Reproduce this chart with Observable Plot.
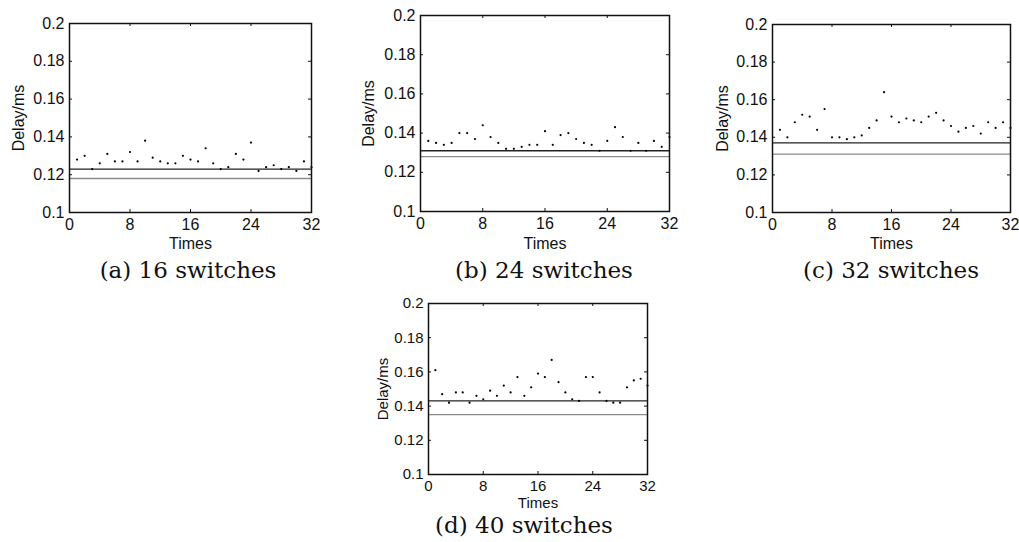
<!DOCTYPE html>
<html>
<head>
<meta charset="utf-8">
<script src="https://cdn.jsdelivr.net/npm/d3@7"></script>
<script src="https://cdn.jsdelivr.net/npm/@observablehq/plot@0.6"></script>
<style>
  html, body { margin: 0; padding: 0; background: #fff; }
  #root { position: relative; width: 1019px; height: 542px; overflow: hidden; background: #fff; }
  .panel { position: absolute; }
  .cap { position: absolute; font-family: "DejaVu Serif", serif; font-size: 23px; color: #111; white-space: nowrap; transform: translateX(-50%); line-height: 1; }
</style>
</head>
<body>
<div id="root"></div>
<script>
// ---- data ----
const times = d3.range(1, 33);
const delay16 = [0.128,0.130,0.123,0.126,0.131,0.127,0.127,0.132,0.127,0.138,0.129,0.127,0.126,0.126,0.130,0.128,
                 0.127,0.134,0.126,0.123,0.124,0.131,0.128,0.137,0.122,0.124,0.125,0.123,0.124,0.122,0.127,0.124];
const delay24 = [0.136,0.135,0.134,0.135,0.140,0.140,0.137,0.144,0.138,0.135,0.132,0.132,0.133,0.134,0.134,0.141,
                 0.134,0.139,0.140,0.137,0.135,0.134,0.131,0.136,0.143,0.138,0.131,0.135,0.131,0.136,0.133,0.138];
const delay32 = [0.144,0.140,0.148,0.152,0.151,0.144,0.155,0.140,0.140,0.139,0.140,0.141,0.145,0.149,0.164,0.151,
                 0.148,0.150,0.149,0.148,0.151,0.153,0.149,0.146,0.143,0.145,0.146,0.142,0.148,0.145,0.148,0.145];
const delay40 = [0.161,0.147,0.142,0.148,0.148,0.142,0.146,0.144,0.149,0.146,0.152,0.148,0.157,0.146,0.151,0.159,
                 0.157,0.167,0.154,0.148,0.144,0.143,0.157,0.157,0.148,0.143,0.142,0.142,0.151,0.155,0.156,0.152];
const blackLine = [0.123, 0.131, 0.137, 0.143];
const grayLine  = [0.118, 0.128, 0.131, 0.135];
const captions = ["(a) 16 switches", "(b) 24 switches", "(c) 32 switches", "(d) 40 switches"];
const xTicks = [0, 8, 16, 24, 32];
const yTicks = [0.1, 0.12, 0.14, 0.16, 0.18, 0.2];
const series = [delay16, delay24, delay32, delay40];

// ---- layout (styles only) ----
const layout = [
  {left: 0,   top: 0,   width: 330, height: 252, ml: 69, mr: 19, mt: 23, mb: 40, fs: 16, yOff: 57, xOff: 36, capX: 188, capY: 259},
  {left: 340, top: 0,   width: 340, height: 252, ml: 80, mr: 11, mt: 15, mb: 41, fs: 16, yOff: 58, xOff: 37, capX: 544, capY: 259},
  {left: 690, top: 0,   width: 329, height: 252, ml: 82, mr: 9,  mt: 24, mb: 40, fs: 16, yOff: 56, xOff: 36, capX: 891, capY: 259},
  {left: 350, top: 280, width: 330, height: 230, ml: 78, mr: 33, mt: 23, mb: 36, fs: 15, yOff: 51, xOff: 33, capX: 524, capY: 514}
];

const root = document.getElementById("root");

series.forEach((vals, i) => {
  const L = layout[i];
  const W = L.width - L.ml - L.mr;
  const H = L.height - L.mt - L.mb;
  const data = times.map((t, j) => ({t, d: vals[j]}));
  const tick = 3;
  const chart = Plot.plot({
    width: L.width,
    height: L.height,
    marginLeft: L.ml, marginRight: L.mr, marginTop: L.mt, marginBottom: L.mb,
    style: {fontFamily: "'Liberation Sans', Arial, sans-serif", fontSize: L.fs + "px", color: "#111", background: "transparent", overflow: "visible"},
    x: {domain: [0, 32]},
    y: {domain: [0.1, 0.2]},
    marks: [
      Plot.ruleY([grayLine[i]], {stroke: "#8a8a8a", strokeWidth: 1.3}),
      Plot.ruleY([blackLine[i]], {stroke: "#222", strokeWidth: 1.3}),
      Plot.dot(data, {x: "t", y: "d", r: 1.1, fill: "#000", stroke: null}),
      Plot.tickY(yTicks, {y: d => d, insetRight: W - tick, stroke: "#111"}),
      Plot.tickY(yTicks, {y: d => d, insetLeft: W - tick, stroke: "#111"}),
      Plot.tickX(xTicks, {x: d => d, insetTop: H - tick, stroke: "#111"}),
      Plot.tickX(xTicks, {x: d => d, insetBottom: H - tick, stroke: "#111"}),
      Plot.axisX({ticks: xTicks, tickSize: 0, tickPadding: 6, fontSize: L.fs,
                  label: "Times", labelAnchor: "center", labelArrow: "none", labelOffset: L.xOff}),
      Plot.axisY({ticks: yTicks, tickSize: 0, tickPadding: 5, fontSize: L.fs, tickFormat: d => String(+d.toFixed(2)),
                  label: "Delay/ms", labelAnchor: "center", labelArrow: "none", labelOffset: L.yOff}),
      Plot.frame({stroke: "#111", strokeWidth: 1.5})
    ]
  });
  const wrap = document.createElement("div");
  wrap.className = "panel";
  wrap.style.left = L.left + "px";
  wrap.style.top = L.top + "px";
  wrap.appendChild(chart);
  root.appendChild(wrap);

  const cap = document.createElement("div");
  cap.className = "cap";
  cap.style.left = L.capX + "px";
  cap.style.top = L.capY + "px";
  cap.textContent = captions[i];
  root.appendChild(cap);
});
</script>
</body>
</html>
